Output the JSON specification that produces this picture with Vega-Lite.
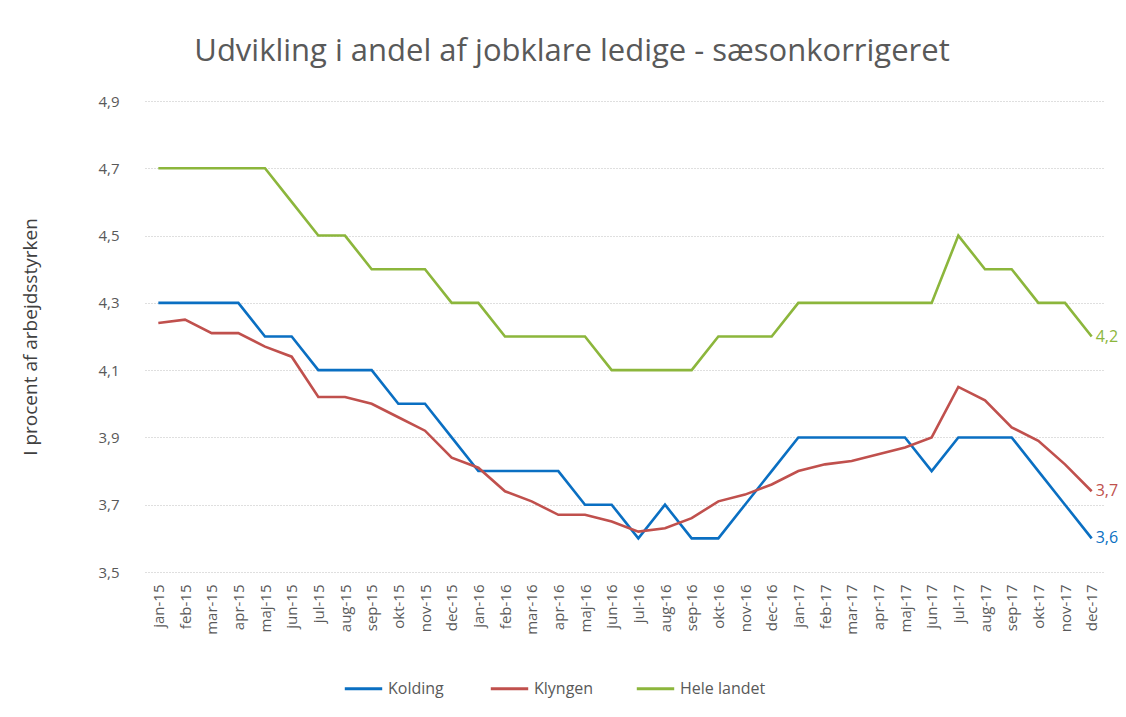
{
  "$schema": "https://vega.github.io/schema/vega-lite/v6.json",
  "autosize": {"type": "none"},
  "width": 960,
  "height": 471,
  "padding": {"left": 145, "top": 101, "right": 21, "bottom": 145},
  "background": "white",
  "title": {
    "text": "Udvikling i andel af jobklare ledige - sæsonkorrigeret",
    "anchor": "middle",
    "dx": -53,
    "offset": 26,
    "font": "Open Sans",
    "fontSize": 31,
    "fontWeight": "normal",
    "color": "#595959"
  },
  "config": {
    "view": {"stroke": null},
    "font": "Open Sans"
  },
  "data": {
    "values": [
      {"month": "jan-15", "Kolding": 4.3, "Klyngen": 4.24, "Hele landet": 4.7},
      {"month": "feb-15", "Kolding": 4.3, "Klyngen": 4.25, "Hele landet": 4.7},
      {"month": "mar-15", "Kolding": 4.3, "Klyngen": 4.21, "Hele landet": 4.7},
      {"month": "apr-15", "Kolding": 4.3, "Klyngen": 4.21, "Hele landet": 4.7},
      {"month": "maj-15", "Kolding": 4.2, "Klyngen": 4.17, "Hele landet": 4.7},
      {"month": "jun-15", "Kolding": 4.2, "Klyngen": 4.14, "Hele landet": 4.6},
      {"month": "jul-15", "Kolding": 4.1, "Klyngen": 4.02, "Hele landet": 4.5},
      {"month": "aug-15", "Kolding": 4.1, "Klyngen": 4.02, "Hele landet": 4.5},
      {"month": "sep-15", "Kolding": 4.1, "Klyngen": 4.0, "Hele landet": 4.4},
      {"month": "okt-15", "Kolding": 4.0, "Klyngen": 3.96, "Hele landet": 4.4},
      {"month": "nov-15", "Kolding": 4.0, "Klyngen": 3.92, "Hele landet": 4.4},
      {"month": "dec-15", "Kolding": 3.9, "Klyngen": 3.84, "Hele landet": 4.3},
      {"month": "jan-16", "Kolding": 3.8, "Klyngen": 3.81, "Hele landet": 4.3},
      {"month": "feb-16", "Kolding": 3.8, "Klyngen": 3.74, "Hele landet": 4.2},
      {"month": "mar-16", "Kolding": 3.8, "Klyngen": 3.71, "Hele landet": 4.2},
      {"month": "apr-16", "Kolding": 3.8, "Klyngen": 3.67, "Hele landet": 4.2},
      {"month": "maj-16", "Kolding": 3.7, "Klyngen": 3.67, "Hele landet": 4.2},
      {"month": "jun-16", "Kolding": 3.7, "Klyngen": 3.65, "Hele landet": 4.1},
      {"month": "jul-16", "Kolding": 3.6, "Klyngen": 3.62, "Hele landet": 4.1},
      {"month": "aug-16", "Kolding": 3.7, "Klyngen": 3.63, "Hele landet": 4.1},
      {"month": "sep-16", "Kolding": 3.6, "Klyngen": 3.66, "Hele landet": 4.1},
      {"month": "okt-16", "Kolding": 3.6, "Klyngen": 3.71, "Hele landet": 4.2},
      {"month": "nov-16", "Kolding": 3.7, "Klyngen": 3.73, "Hele landet": 4.2},
      {"month": "dec-16", "Kolding": 3.8, "Klyngen": 3.76, "Hele landet": 4.2},
      {"month": "jan-17", "Kolding": 3.9, "Klyngen": 3.8, "Hele landet": 4.3},
      {"month": "feb-17", "Kolding": 3.9, "Klyngen": 3.82, "Hele landet": 4.3},
      {"month": "mar-17", "Kolding": 3.9, "Klyngen": 3.83, "Hele landet": 4.3},
      {"month": "apr-17", "Kolding": 3.9, "Klyngen": 3.85, "Hele landet": 4.3},
      {"month": "maj-17", "Kolding": 3.9, "Klyngen": 3.87, "Hele landet": 4.3},
      {"month": "jun-17", "Kolding": 3.8, "Klyngen": 3.9, "Hele landet": 4.3},
      {"month": "jul-17", "Kolding": 3.9, "Klyngen": 4.05, "Hele landet": 4.5},
      {"month": "aug-17", "Kolding": 3.9, "Klyngen": 4.01, "Hele landet": 4.4},
      {"month": "sep-17", "Kolding": 3.9, "Klyngen": 3.93, "Hele landet": 4.4},
      {"month": "okt-17", "Kolding": 3.8, "Klyngen": 3.89, "Hele landet": 4.3},
      {"month": "nov-17", "Kolding": 3.7, "Klyngen": 3.82, "Hele landet": 4.3},
      {"month": "dec-17", "Kolding": 3.6, "Klyngen": 3.74, "Hele landet": 4.2}
    ]
  },
  "transform": [
    {"fold": ["Kolding", "Klyngen", "Hele landet"], "as": ["series", "value"]}
  ],
  "encoding": {
    "x": {
      "field": "month",
      "type": "ordinal",
      "sort": null,
      "scale": {"type": "point", "padding": 0.5},
      "axis": {
        "title": null,
        "labelAngle": -90,
        "labelFontSize": 15,
        "labelColor": "#595959",
        "labelPadding": 12,
        "ticks": false,
        "domain": false,
        "grid": false
      }
    },
    "y": {
      "field": "value",
      "type": "quantitative",
      "scale": {"domain": [3.5, 4.9], "nice": false, "zero": false},
      "axis": {
        "title": "I procent af arbejdsstyrken",
        "titleFontSize": 19,
        "titleFontWeight": "normal",
        "titleColor": "#404040",
        "titlePadding": 57,
        "values": [3.5, 3.7, 3.9, 4.1, 4.3, 4.5, 4.7, 4.9],
        "labelExpr": "replace(format(datum.value, '.1f'), '.', ',')",
        "labelFontSize": 15,
        "labelColor": "#595959",
        "labelPadding": 26,
        "ticks": false,
        "domain": false,
        "grid": true,
        "gridColor": "#bfbfbf",
        "gridDash": [1, 2],
        "gridWidth": 1
      }
    },
    "color": {
      "field": "series",
      "type": "nominal",
      "scale": {
        "domain": ["Kolding", "Klyngen", "Hele landet"],
        "range": ["#0a6fc2", "#c0504d", "#8cb63c"]
      },
      "legend": {
        "title": null,
        "orient": "none",
        "direction": "horizontal",
        "legendX": 198,
        "legendY": 567,
        "gridAlign": "all",
        "symbolType": "stroke",
        "symbolSize": 1400,
        "symbolStrokeWidth": 3,
        "labelFontSize": 16,
        "labelColor": "#595959",
        "columnPadding": 10,
        "labelOffset": 4
      }
    }
  },
  "layer": [
    {
      "mark": {"type": "line", "strokeWidth": 2.6}
    },
    {
      "transform": [
        {"filter": "datum.month === 'dec-17'"},
        {"calculate": "replace(format(datum.value, '.1f'), '.', ',')", "as": "lbl"}
      ],
      "mark": {"type": "text", "align": "left", "dx": 4, "fontSize": 16, "baseline": "middle"},
      "encoding": {
        "text": {"field": "lbl"},
        "color": {
          "field": "series",
          "type": "nominal",
          "scale": {
            "domain": ["Kolding", "Klyngen", "Hele landet"],
            "range": ["#0a6fc2", "#c0504d", "#8cb63c"]
          },
          "legend": null
        }
      }
    }
  ]
}
